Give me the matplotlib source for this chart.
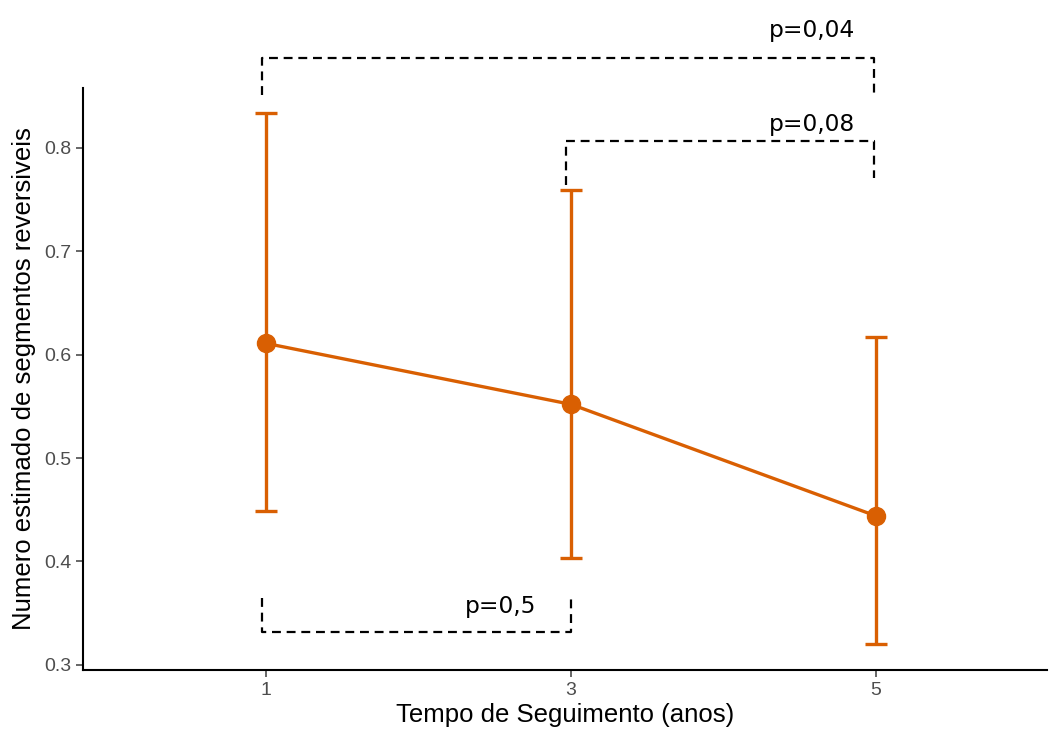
import matplotlib
matplotlib.use('Agg')
import matplotlib.pyplot as plt

# dados
anos = ['1', '3', '5']
estimado = [0.611, 0.552, 0.444]
ic_inf = [0.449, 0.4035, 0.320]
ic_sup = [0.834, 0.759, 0.617]

# rótulos das comparações
comp_rotulos = ['p=0,04', 'p=0,08', 'p=0,5']

laranja = '#D95F02'

fig = plt.figure(figsize=(10.49, 7.33), dpi=100)
ax = fig.add_axes([0.0791, 0.0859, 0.919, 0.794])

x = list(range(len(anos)))
err = [[e - l for e, l in zip(estimado, ic_inf)], [u - e for e, u in zip(estimado, ic_sup)]]
ax.errorbar(x, estimado, yerr=err, color=laranja, lw=2.4, elinewidth=2.4,
            capsize=8, capthick=2.4, marker='o', markersize=13, zorder=3)

ax.set_xlim(-0.6, 2.56)
ax.set_ylim(0.295, 0.858)
ax.set_xticks(x)
ax.set_xticklabels(anos)
ax.set_yticks([0.3, 0.4, 0.5, 0.6, 0.7, 0.8])
ax.set_yticklabels(['0.3', '0.4', '0.5', '0.6', '0.7', '0.8'])

for s in ['top', 'right']:
    ax.spines[s].set_visible(False)
for s in ['left', 'bottom']:
    ax.spines[s].set_linewidth(1.5)
ax.tick_params(colors='#4d4d4d', labelsize=14, length=5, width=1.2)
for lab in ax.get_xticklabels() + ax.get_yticklabels():
    lab.set_family('Liberation Sans')

ax.set_xlabel('Tempo de Seguimento (anos)', fontsize=18.5, family='Liberation Sans', labelpad=3)
ax.set_ylabel('Numero estimado de segmentos reversiveis', fontsize=18.5, family='Liberation Sans', labelpad=6)

# colchetes das comparações
kw = dict(color='black', lw=1.6, ls=(0, (4, 2.6)), clip_on=False)
# 1 vs 5
ax.plot([-0.013, -0.013, 1.993, 1.993], [0.851, 0.887, 0.887, 0.851], **kw)
ax.text(1.79, 0.914, comp_rotulos[0], fontsize=16.8, ha='center', va='center', family='DejaVu Sans')
# 3 vs 5
ax.plot([0.984, 0.984, 1.993, 1.993], [0.764, 0.807, 0.807, 0.771], **kw)
ax.text(1.79, 0.823, comp_rotulos[1], fontsize=16.8, ha='center', va='center', family='DejaVu Sans')
# 1 vs 3
ax.plot([-0.013, -0.013, 1.0, 1.0], [0.365, 0.332, 0.332, 0.365], **kw)
ax.text(0.77, 0.356, comp_rotulos[2], fontsize=16.8, ha='center', va='center', family='DejaVu Sans')

fig.savefig('out.png', dpi=100)
